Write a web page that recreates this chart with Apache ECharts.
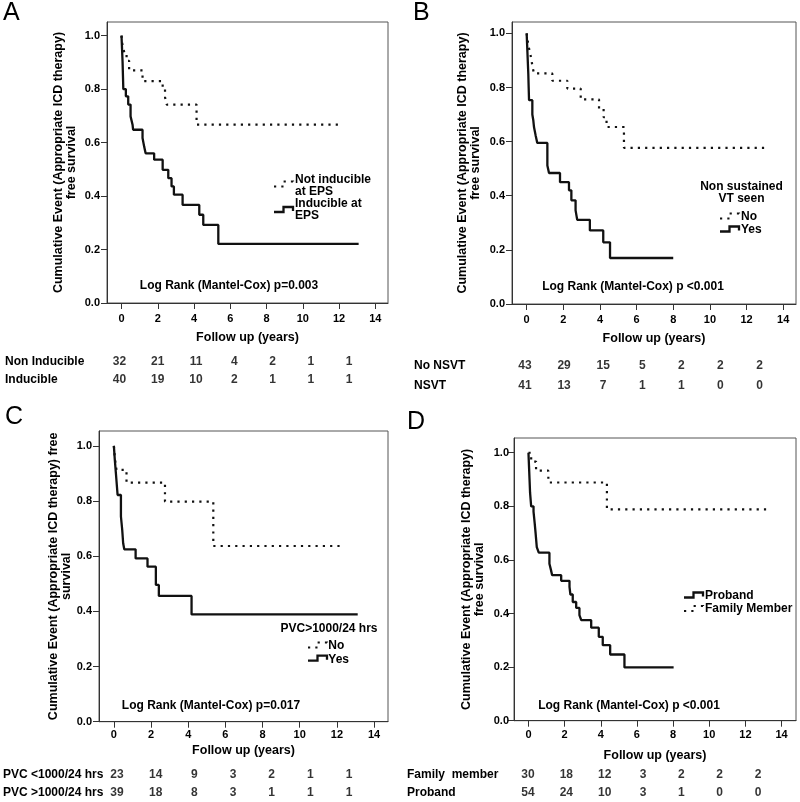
<!DOCTYPE html>
<html>
<head>
<meta charset="utf-8">
<script src="https://cdn.jsdelivr.net/npm/echarts@6/dist/echarts.min.js"></script>
<style>
  html, body { margin: 0; padding: 0; background: #fff; }
  #chart { width: 800px; height: 802px; }
</style>
</head>
<body>
<div id="chart"></div>
<script>
// Kaplan-Meier curves as [years, survival] (value after the event at that time)
const aNonInducible = [[0, 1], [0.05, 0.969], [0.15, 0.938], [0.28, 0.906], [0.42, 0.87], [1.16, 0.83], [2.27, 0.80], [2.4, 0.77], [2.49, 0.742], [4.14, 0.667], [12.06, 0.667]];
const aInducible = [[0, 1], [0.03, 0.95], [0.06, 0.9], [0.08, 0.85], [0.1, 0.8], [0.24, 0.773], [0.37, 0.742], [0.5, 0.698], [0.61, 0.667], [0.64, 0.648], [1.16, 0.617], [1.25, 0.585], [1.33, 0.56], [1.8, 0.536], [2.27, 0.498], [2.58, 0.467], [2.76, 0.436], [2.89, 0.405], [3.37, 0.367], [4.29, 0.33], [4.51, 0.292], [5.34, 0.221], [13.08, 0.221]];

const bNoNsvt = [[0, 1], [0.05, 0.977], [0.1, 0.953], [0.18, 0.93], [0.25, 0.907], [0.32, 0.876], [0.4, 0.852], [1.4, 0.825], [2.22, 0.796], [2.95, 0.756], [3.95, 0.722], [4.2, 0.69], [4.36, 0.654], [5.31, 0.577], [13.1, 0.577]];
const bNsvt = [[0, 1], [0.03, 0.95], [0.06, 0.9], [0.09, 0.85], [0.11, 0.8], [0.13, 0.753], [0.31, 0.70], [0.36, 0.68], [0.4, 0.654], [0.49, 0.623], [0.58, 0.595], [1.13, 0.512], [1.22, 0.484], [1.82, 0.45], [2.31, 0.42], [2.44, 0.383], [2.67, 0.346], [2.76, 0.311], [3.45, 0.272], [4.18, 0.228], [4.55, 0.17], [8.0, 0.17]];

const cPvcNo = [[0, 1], [0.05, 0.957], [0.14, 0.913], [0.68, 0.867], [2.75, 0.798], [5.35, 0.637], [12.17, 0.637]];
const cPvcYes = [[0, 1], [0.05, 0.95], [0.11, 0.9], [0.2, 0.822], [0.38, 0.744], [0.45, 0.695], [0.5, 0.647], [0.56, 0.625], [1.17, 0.592], [1.81, 0.562], [2.26, 0.496], [2.42, 0.456], [4.18, 0.389], [13.12, 0.389]];

const dFamily = [[0, 1], [0.15, 0.967], [0.42, 0.933], [1.1, 0.889], [4.34, 0.789], [13.16, 0.789]];
const dProband = [[0, 1], [0.03, 0.95], [0.06, 0.9], [0.09, 0.85], [0.15, 0.8], [0.28, 0.78], [0.34, 0.74], [0.39, 0.704], [0.46, 0.648], [0.57, 0.627], [1.16, 0.586], [1.25, 0.561], [1.31, 0.543], [1.81, 0.522], [2.27, 0.499], [2.32, 0.471], [2.45, 0.443], [2.64, 0.421], [2.82, 0.394], [2.92, 0.375], [3.47, 0.347], [3.89, 0.313], [4.11, 0.282], [4.52, 0.247], [5.31, 0.199], [8.03, 0.199]];

// numbers at risk
const riskYears = [0, 2, 4, 6, 8, 10, 12];
const aRiskRows = ['Non Inducible', 'Inducible'];
const aRisk = [[32, 21, 11, 4, 2, 1, 1], [40, 19, 10, 2, 1, 1, 1]];
const bRiskRows = ['No NSVT', 'NSVT'];
const bRisk = [[43, 29, 15, 5, 2, 2, 2], [41, 13, 7, 1, 1, 0, 0]];
const cRiskRows = ['PVC <1000/24 hrs', 'PVC >1000/24 hrs'];
const cRisk = [[23, 14, 9, 3, 2, 1, 1], [39, 18, 8, 3, 1, 1, 1]];
const dRiskRows = ['Family  member', 'Proband'];
const dRisk = [[30, 18, 12, 3, 2, 2, 2], [54, 24, 10, 3, 1, 0, 0]];

const xTicks = [0, 2, 4, 6, 8, 10, 12, 14];
const yTicks = [0, 0.2, 0.4, 0.6, 0.8, 1.0];

const FONT = '"Liberation Sans", Arial, sans-serif';
const INK = '#111';
const DOT = [2.2, 5.1];

const panels = [
  {
    letter: 'A', letterPos: [3, 13],
    grid: { left: 107, top: 22, width: 281, height: 281 },
    xMin: -0.8, xMax: 14.7, yMax: 1.051,
    yName: 'Cumulative Event (Appropriate ICD therapy)\nfree survival', yNameGap: 29,
    xNameGap: 28, xLabelMargin: 10, yLabelMargin: 7,
    dotted: aNonInducible, solid: aInducible,
    table: { left: 119.5, top: 352.9, width: 229.5, height: 35.2 }, rowLabelX: 5,
    rows: aRiskRows, risk: aRisk,
    logRank: 'Log Rank (Mantel-Cox) p=0.003', logRankPos: [229, 286]
  },
  {
    letter: 'B', letterPos: [413, 13],
    grid: { left: 512, top: 22, width: 284, height: 282 },
    xMin: -0.8, xMax: 14.7, yMax: 1.042,
    yName: 'Cumulative Event (Appropriate ICD therapy)\nfree survival', yNameGap: 30,
    xNameGap: 28, xLabelMargin: 10, yLabelMargin: 7,
    dotted: bNoNsvt, solid: bNsvt,
    table: { left: 525, top: 356, width: 234.5, height: 40 }, rowLabelX: 414,
    rows: bRiskRows, risk: bRisk,
    logRank: 'Log Rank (Mantel-Cox) p <0.001', logRankPos: [633, 287]
  },
  {
    letter: 'C', letterPos: [5, 417],
    grid: { left: 99, top: 431, width: 289, height: 290.7 },
    xMin: -0.8, xMax: 14.75, yMax: 1.054,
    yName: 'Cumulative Event (Appropriate ICD therapy) free\nsurvival', yNameGap: 25,
    xNameGap: 22, xLabelMargin: 8, yLabelMargin: 7,
    dotted: cPvcNo, solid: cPvcYes,
    table: { left: 117, top: 766, width: 232, height: 40 }, rowLabelX: 3,
    rows: cRiskRows, risk: cRisk,
    logRank: 'Log Rank (Mantel-Cox) p=0.017', logRankPos: [211, 706]
  },
  {
    letter: 'D', letterPos: [407, 422],
    grid: { left: 514, top: 438, width: 282, height: 282.7 },
    xMin: -0.8, xMax: 14.8, yMax: 1.055,
    yName: 'Cumulative Event (Appropriate ICD therapy)\nfree survival', yNameGap: 28,
    xNameGap: 28, xLabelMargin: 9, yLabelMargin: 5,
    dotted: dFamily, solid: dProband,
    table: { left: 528, top: 766, width: 230, height: 40 }, rowLabelX: 407,
    rows: dRiskRows, risk: dRisk,
    logRank: 'Log Rank (Mantel-Cox) p <0.001', logRankPos: [629, 706]
  }
];

// legend keys drawn by hand (SPSS step icon)
function stepIcon(x, y, dotted) {
  return {
    type: 'polyline',
    shape: { points: [[x, y + 5], [x + 9.5, y + 5], [x + 9.5, y], [x + 19, y], [x + 19, y + 4]] },
    style: { stroke: INK, lineWidth: dotted ? 2.2 : 2.3, lineDash: dotted ? DOT : null, fill: null }
  };
}

function label(text, x, y, opts) {
  return {
    type: 'text',
    style: Object.assign({
      text: text, x: x, y: y, fill: '#000',
      font: 'bold 12px ' + FONT, align: 'left', verticalAlign: 'middle', lineHeight: 11.5
    }, opts || {})
  };
}

const legendGraphics = [
  stepIcon(274, 181.5, true), label('Not inducible\nat EPS', 295, 185.5),
  stepIcon(274, 207, false), label('Inducible at\nEPS', 295, 209.5),

  label('Non sustained', 741.5, 186.7, { align: 'center' }),
  label('VT seen', 741.5, 198.3, { align: 'center' }),
  stepIcon(720, 213.5, true), label('No', 741, 216.7),
  stepIcon(720, 226.5, false), label('Yes', 741, 230),

  label('PVC>1000/24 hrs', 329, 628.3, { align: 'center' }),
  stepIcon(308, 642.5, true), label('No', 328.3, 646),
  stepIcon(308, 655.7, false), label('Yes', 328.3, 659.3),

  stepIcon(684, 592.5, false), label('Proband', 705, 595.7),
  stepIcon(684, 606, true), label('Family Member', 705, 609)
];

const grid = [];
const xAxis = [];
const yAxis = [];
const series = [];
const graphic = legendGraphics.slice();

panels.forEach((p, i) => {
  const gi = i * 2;
  grid.push(Object.assign({ show: true, borderColor: '#555', borderWidth: 1, backgroundColor: '#fff' }, p.grid));
  grid.push(Object.assign({ show: false }, p.table));

  xAxis.push({
    gridIndex: gi, type: 'value', min: p.xMin, max: p.xMax,
    name: 'Follow up (years)', nameLocation: 'middle', nameGap: p.xNameGap,
    nameTextStyle: { fontFamily: FONT, fontWeight: 'bold', fontSize: 12.5, color: '#000' },
    axisLine: { onZero: false, lineStyle: { color: '#333', width: 1 } },
    axisTick: { customValues: xTicks, length: 6, lineStyle: { color: '#333' } },
    axisLabel: { customValues: xTicks, margin: p.xLabelMargin, fontFamily: FONT, fontWeight: 'bold', fontSize: 11, color: '#000' },
    splitLine: { show: false }
  });
  xAxis.push({ gridIndex: gi + 1, type: 'value', min: 0, max: 12, show: false });

  yAxis.push({
    gridIndex: gi, type: 'value', min: 0, max: p.yMax,
    name: p.yName, nameLocation: 'middle', nameGap: p.yNameGap,
    nameTextStyle: { fontFamily: FONT, fontWeight: 'bold', fontSize: 12.5, lineHeight: 12.8, color: '#000' },
    axisLine: { onZero: false, lineStyle: { color: '#333', width: 1 } },
    axisTick: { customValues: yTicks, length: 6, lineStyle: { color: '#333' } },
    axisLabel: {
      customValues: yTicks, margin: p.yLabelMargin, fontFamily: FONT, fontWeight: 'bold', fontSize: 11, color: '#000',
      formatter: v => v.toFixed(1)
    },
    splitLine: { show: false }
  });
  yAxis.push({
    gridIndex: gi + 1, type: 'category', data: p.rows, inverse: true,
    axisLine: { show: false }, axisTick: { show: false },
    axisLabel: { align: 'left', margin: p.table.left - p.rowLabelX, fontFamily: FONT, fontWeight: 'bold', fontSize: 12, color: '#000' }
  });

  series.push({
    type: 'line', xAxisIndex: gi, yAxisIndex: gi, data: p.dotted, step: 'end',
    showSymbol: false, silent: true,
    lineStyle: { color: INK, width: 2.2, type: DOT }
  });
  series.push({
    type: 'line', xAxisIndex: gi, yAxisIndex: gi, data: p.solid, step: 'end',
    showSymbol: false, silent: true,
    lineStyle: { color: INK, width: 2.3 }
  });

  const cells = [];
  p.risk.forEach((row, r) => row.forEach((n, k) => cells.push([riskYears[k], r, n])));
  series.push({
    type: 'scatter', xAxisIndex: gi + 1, yAxisIndex: gi + 1, data: cells,
    symbolSize: 1, silent: true, itemStyle: { color: 'transparent' },
    label: {
      show: true, position: 'inside', formatter: q => q.value[2],
      fontFamily: FONT, fontWeight: 'bold', fontSize: 12, color: '#000'
    }
  });

  graphic.push({
    type: 'text',
    style: { text: p.letter, x: p.letterPos[0], y: p.letterPos[1], fill: '#000', font: '25px ' + FONT, align: 'left', verticalAlign: 'middle' }
  });
  graphic.push(label(p.logRank, p.logRankPos[0], p.logRankPos[1], { align: 'center' }));
});

const myChart = echarts.init(document.getElementById('chart'));
myChart.setOption({
  animation: false,
  backgroundColor: '#fff',
  textStyle: { fontFamily: FONT },
  grid: grid,
  xAxis: xAxis,
  yAxis: yAxis,
  series: series,
  graphic: graphic
});
</script>
</body>
</html>
